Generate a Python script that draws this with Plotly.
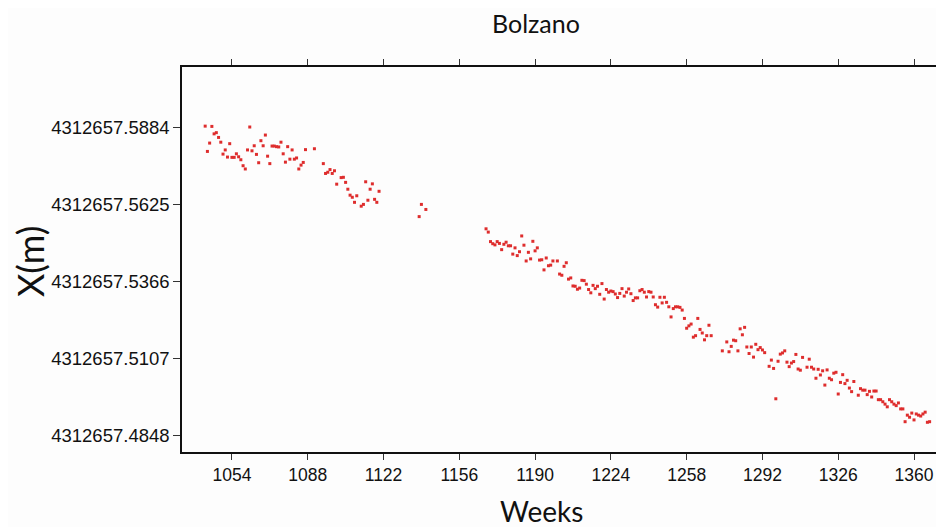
import plotly.graph_objects as go

BASE = 4312657.0
weeks = [1042,1045,1062,1046,1047,1048,1044,1049,1043,1053,1051,1050,1052,1054,1055,1056,1057,1058,1059,1060,
         1061,1063,1064,1065,1066,1067,1068,1069,1070,1071,1072,1073,1074,1075,1076,1077,1078,1079,1080,1081,
         1082,1083,1084,1085,1086,1087,1091,1095,1096,1097,1098,1099,1100,1101,1103,1104,1105,1106,1107,1108,
         1109,1110,1112,1113,1114,1115,1116,1117,1118,1119,1120,
         1139,1141,1138,
         1168,1169,1170,1171,1172,1173,1174,1175,1176,1177,1178,1179,1180,1181,1182,1183,1184,1185,1186,1187,
         1188,1189,1190,1191,1192,1193,1194,1195,1196,1197,1198,1200,1201,1202,1203,1204,1205,1206,1207,1208,
         1209,1210,1211,1212,1213,1214,1215,1216,1217,1218,1219,
         1220,1221,1222,1223,1224,1225,1226,1227,1228,1229,1230,1231,1232,1233,1234,1235,1236,1237,1238,1239,
         1240,1241,1242,1243,1244,1245,1246,1247,1248,1249,1250,1251,1252,1253,1254,1255,1256,1257,1258,1259,
         1260,1261,1262,1263,1264,1265,1266,1267,1268,1269,1274,1276,1277,1278,1279,1280,1281,1282,1283,1284,
         1285,1286,1287,1288,1289,1290,1291,
         1292,1293,1295,1296,1297,1298,1299,1300,1301,1302,1303,1304,1305,1306,1307,1308,1309,1310,1312,1313,
         1314,1315,1316,1317,1318,1319,1320,1321,1322,1323,1324,1325,1326,1327,1328,1329,1330,1331,1332,1333,
         1335,1336,1337,1338,1339,1340,1341,1342,1343,1344,1345,1346,1347,1348,1349,1350,1351,1352,1353,1354,
         1355,1356,1357,1358,1359,1360,1361,1362,1363,1364,1365,1366,1367]
x_frac = [0.5888,0.5887,0.5885,0.5862,0.5866,0.5850,0.5831,0.5834,0.5803,0.5829,0.5808,0.5794,0.5784,0.5783,0.5783,0.5795,0.5785,0.5775,0.5755,0.5744,
          0.5808,0.5805,0.5822,0.5793,0.5765,0.5839,0.5822,0.5858,0.5787,0.5762,0.5821,0.5821,0.5819,0.5818,0.5834,0.5795,0.5767,0.5819,0.5777,0.5808,
          0.5777,0.5781,0.5744,0.5757,0.5766,0.5809,0.5812,0.5762,0.5729,0.5733,0.5742,0.5729,0.5738,0.5693,0.5715,0.5716,0.5699,0.5676,0.5656,0.5649,
          0.5632,0.5654,0.5619,0.5625,0.5701,0.5639,0.5676,0.5694,0.5642,0.5632,0.5669,
          0.5625,0.5608,0.5584,
          0.5543,0.5532,0.5500,0.5493,0.5489,0.5500,0.5494,0.5473,0.5491,0.5498,0.5486,0.5486,0.5458,0.5479,0.5453,0.5466,0.5519,0.5488,0.5435,0.5464,
          0.5442,0.5501,0.5469,0.5479,0.5438,0.5439,0.5405,0.5445,0.5419,0.5421,0.5435,0.5435,0.5391,0.5387,0.5417,0.5429,0.5374,0.5378,0.5351,0.5350,
          0.5340,0.5344,0.5370,0.5369,0.5357,0.5339,0.5328,0.5353,0.5342,0.5350,0.5323,
          0.5359,0.5307,0.5339,0.5330,0.5334,0.5332,0.5324,0.5312,0.5326,0.5342,0.5317,0.5330,0.5341,0.5325,0.5302,0.5311,0.5311,0.5335,0.5339,0.5330,
          0.5314,0.5332,0.5330,0.5314,0.5288,0.5280,0.5313,0.5294,0.5313,0.5296,0.5281,0.5247,0.5275,0.5281,0.5281,0.5279,0.5270,0.5242,0.5209,0.5217,
          0.5223,0.5179,0.5184,0.5242,0.5205,0.5193,0.5170,0.5184,0.5219,0.5184,0.5133,0.5163,0.5130,0.5148,0.5169,0.5167,0.5133,0.5207,0.5187,0.5212,
          0.5146,0.5124,0.5146,0.5112,0.5155,0.5137,0.5144,
          0.5136,0.5127,0.5081,0.5102,0.5074,0.4972,0.5098,0.5122,0.5126,0.5133,0.5095,0.5080,0.5092,0.5097,0.5121,0.5072,0.5068,0.5111,0.5078,0.5105,
          0.5078,0.5072,0.5041,0.5071,0.5052,0.5066,0.5018,0.5069,0.5041,0.5036,0.5058,0.5061,0.4988,0.5027,0.5053,0.5023,0.5034,0.5008,0.4996,0.5030,
          0.4984,0.5006,0.5001,0.5001,0.4986,0.4997,0.4978,0.4998,0.4998,0.4969,0.4969,0.4962,0.4954,0.4945,0.4969,0.4962,0.4954,0.4949,0.4958,0.4938,
          0.4938,0.4895,0.4917,0.4910,0.4924,0.4901,0.4921,0.4917,0.4914,0.4921,0.4927,0.4893,0.4895]
x_values = [BASE + f for f in x_frac]

x_tickvals = [1054, 1088, 1122, 1156, 1190, 1224, 1258, 1292, 1326, 1360]
y_tick_text = ["4312657.4848", "4312657.5107", "4312657.5366", "4312657.5625", "4312657.5884"]
y_tickvals = [float(t) for t in y_tick_text]

fig = go.Figure()
fig.add_trace(go.Scatter(
    x=weeks, y=x_values, mode="markers",
    marker=dict(symbol="square", size=3, color="rgb(222,45,45)", line=dict(width=0)),
    showlegend=False, hoverinfo="x+y",
))

# page has an 8px body margin, so the figure is 936x519 with origin at page (8, 8)
W, H = 936, 519
L, R, T, B = 174, 0, 59, 75
fig.update_layout(
    width=W, height=H,
    margin=dict(l=L, r=R, t=T, b=B),
    paper_bgcolor="#fdfdfd", plot_bgcolor="#fdfdfd",
    xaxis=dict(range=[1031.6, 1373.45], tickvals=x_tickvals, ticks="outside", ticklen=6,
               tickcolor="#333", tickwidth=1, showline=True, linecolor="#111", linewidth=1.5,
               mirror="ticks", showgrid=False, zeroline=False,
               tickfont=dict(family="Liberation Sans, Arial, sans-serif", size=17.5, color="#111")),
    yaxis=dict(range=[BASE + 0.47932, BASE + 0.60866], tickvals=y_tickvals, ticktext=y_tick_text,
               ticks="outside", ticklen=7, tickcolor="#333", tickwidth=1, showline=True,
               linecolor="#111", linewidth=1.5, showgrid=False, zeroline=False,
               tickfont=dict(family="Liberation Sans, Arial, sans-serif", size=18.5, color="#111")),
)

pw, ph = W - L - R, H - T - B
def px_x(p):  # page pixel -> paper fraction
    return (p - 8 - L) / pw
def px_y(p):
    return (H - B - (p - 8)) / ph

fig.add_annotation(text="Bolzano", x=px_x(536), y=px_y(23), xref="paper", yref="paper",
                   xanchor="center", yanchor="middle", showarrow=False,
                   font=dict(family="Lato, sans-serif", size=25, color="#111"))
fig.add_annotation(text="Weeks", x=px_x(541), y=px_y(511), xref="paper", yref="paper",
                   xanchor="center", yanchor="middle", showarrow=False,
                   font=dict(family="Lato, sans-serif", size=28, color="#111"))
fig.add_annotation(text="X(m)", x=px_x(30), y=px_y(262), xref="paper", yref="paper",
                   xanchor="center", yanchor="middle", showarrow=False, textangle=-90,
                   font=dict(family="Lato, sans-serif", size=36, color="#111"))

fig.write_html("out.html")
